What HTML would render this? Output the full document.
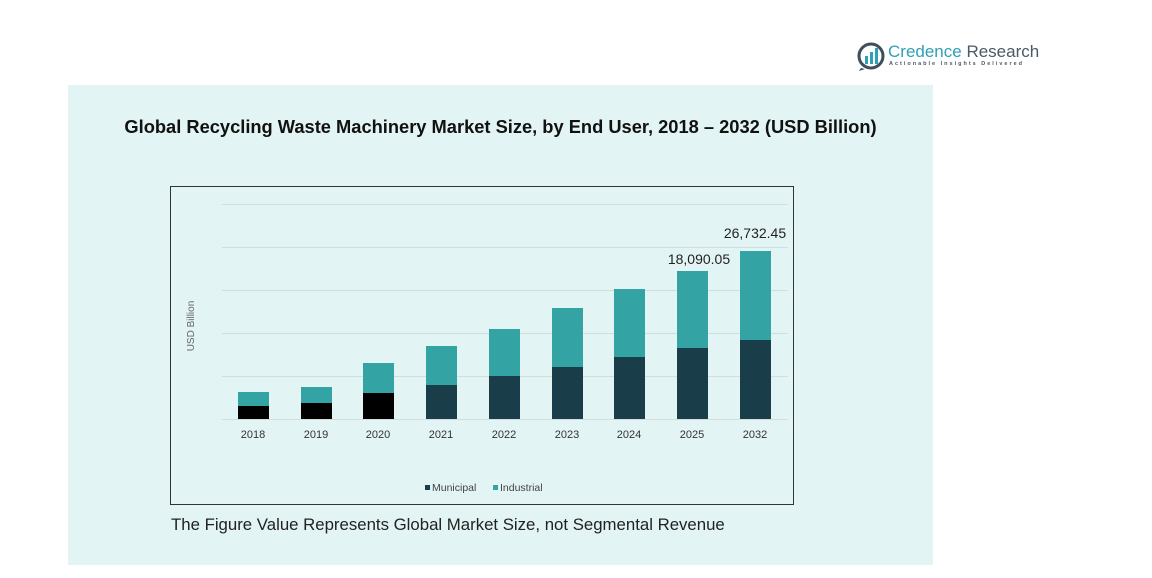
<!DOCTYPE html>
<html><head><meta charset="utf-8"><style>
body{margin:0;width:1152px;height:578px;background:#fff;position:relative;overflow:hidden;font-family:"Liberation Sans",sans-serif}
.a{position:absolute}
</style></head><body>
<div class="a" style="left:68px;top:85px;width:865px;height:480px;background:#e3f4f4"></div>
<svg class="a" style="left:857px;top:42px" width="30" height="30" viewBox="0 0 30 30">
<circle cx="14" cy="14" r="12" fill="none" stroke="#3d4f5c" stroke-width="3"/>
<path d="M4 26 L2 29 L8 27Z" fill="#3d4f5c"/>
<rect x="8" y="14" width="3" height="8" fill="#2fa0b5"/><rect x="13" y="10" width="3" height="12" fill="#2fa0b5"/><rect x="18" y="6" width="3" height="16" fill="#2fa0b5"/>
</svg>
<div class="a" style="left:888px;top:42px;font-size:17px;color:#2fa0b5">Credence <span style="color:#4a5a66">Research</span></div>
<div class="a" style="left:889px;top:61px;font-size:5.5px;color:#4a5a66;letter-spacing:2px;font-weight:bold">Actionable Insights Delivered</div>
<div class="a" style="left:68px;width:865px;top:116px;text-align:center;font-size:18.3px;font-weight:bold;color:#111">Global Recycling Waste Machinery Market Size, by End User, 2018 – 2032 (USD Billion)</div>
<svg class="a" style="left:0;top:0" width="1152" height="578">
<rect x="170.5" y="186.5" width="623" height="318" fill="none" stroke="#333" stroke-width="1"/>
<g stroke="#d2dede" stroke-width="1">
<line x1="222" x2="788" y1="204.5" y2="204.5"/><line x1="222" x2="788" y1="247.5" y2="247.5"/><line x1="222" x2="788" y1="290.5" y2="290.5"/><line x1="222" x2="788" y1="333.5" y2="333.5"/><line x1="222" x2="788" y1="376.5" y2="376.5"/><line x1="222" x2="788" y1="419.5" y2="419.5"/>
</g>
<g fill="#33a3a3">
<rect x="238" y="392" width="31" height="14"/><rect x="301" y="387" width="31" height="16"/><rect x="363" y="363" width="31" height="30"/><rect x="426" y="346" width="31" height="39"/><rect x="489" y="329" width="31" height="47"/><rect x="552" y="308" width="31" height="59"/><rect x="614" y="289" width="31" height="68"/><rect x="677" y="271" width="31" height="77"/><rect x="740" y="251" width="31" height="89"/>
</g>
<g fill="#000"><rect x="238" y="406" width="31" height="13"/><rect x="301" y="403" width="31" height="16"/><rect x="363" y="393" width="31" height="26"/></g>
<g fill="#1a3d4a"><rect x="426" y="385" width="31" height="34"/><rect x="489" y="376" width="31" height="43"/><rect x="552" y="367" width="31" height="52"/><rect x="614" y="357" width="31" height="62"/><rect x="677" y="348" width="31" height="71"/><rect x="740" y="340" width="31" height="79"/></g>
<g font-size="11" fill="#333" text-anchor="middle" font-family="Liberation Sans,sans-serif">
<text x="253" y="438">2018</text><text x="316" y="438">2019</text><text x="378" y="438">2020</text><text x="441" y="438">2021</text><text x="504" y="438">2022</text><text x="567" y="438">2023</text><text x="629" y="438">2024</text><text x="692" y="438">2025</text><text x="755" y="438">2032</text>
</g>
<text x="699" y="264" font-size="14" fill="#222" text-anchor="middle" font-family="Liberation Sans,sans-serif">18,090.05</text>
<text x="755" y="238" font-size="14" fill="#222" text-anchor="middle" font-family="Liberation Sans,sans-serif">26,732.45</text>
<text x="194" y="326" font-size="10" fill="#666" text-anchor="middle" transform="rotate(-90 194 326)" font-family="Liberation Sans,sans-serif">USD Billion</text>
<rect x="425" y="485" width="5" height="5" fill="#1a3d4a"/><text x="432" y="491" font-size="10.5" fill="#444" font-family="Liberation Sans,sans-serif">Municipal</text>
<rect x="493" y="485" width="5" height="5" fill="#33a3a3"/><text x="500" y="491" font-size="10.5" fill="#444" font-family="Liberation Sans,sans-serif">Industrial</text>
</svg>
<div class="a" style="left:171px;top:515px;font-size:16.8px;color:#222">The Figure Value Represents Global Market Size, not Segmental Revenue</div>
</body></html>
